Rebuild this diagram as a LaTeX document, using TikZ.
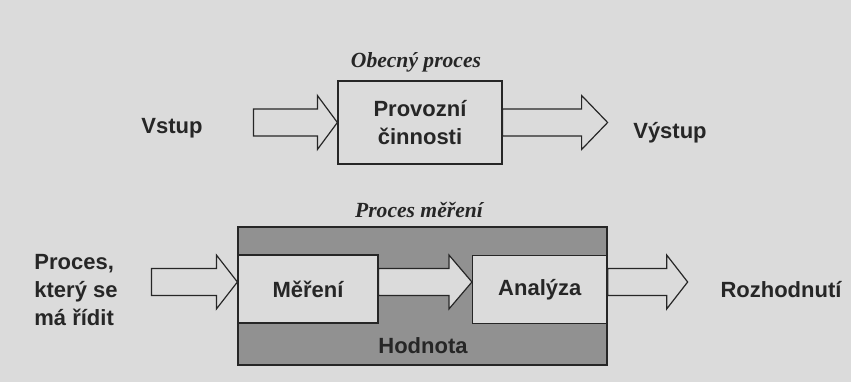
\documentclass[tikz,border=0pt]{standalone}
\usepackage{fontspec}
\setmainfont{Liberation Sans}
\newfontfamily\serifit{Liberation Serif}
\usepackage{tikz}
\usetikzlibrary{calc,backgrounds}

\definecolor{paper}{gray}{0.86}
\definecolor{band}{gray}{0.57}
\definecolor{ink}{gray}{0.15}

\tikzset{
  txt/.style={font=\bfseries\fontsize{16.5}{21}\selectfont, text=ink},
  heading/.style={font=\serifit\bfseries\itshape\fontsize{16.2}{18}\selectfont, text=ink},
  box/.style={draw=ink, line width=0.9pt, fill=paper, inner sep=0pt},
  arrowbody/.style={draw=ink, line width=0.9pt, fill=paper, line join=miter},
}

% fat arrow: start, tip, head length
\newcommand{\bigarrow}[3]{%
  \draw[arrowbody] ($(#1)+(0,-13.5)$) -- ($(#2)+(-#3,-13.5)$) -- ($(#2)+(-#3,-27)$)
    -- (#2) -- ($(#2)+(-#3,27)$) -- ($(#2)+(-#3,13.5)$) -- ($(#1)+(0,13.5)$) -- cycle;}

\begin{document}
\begin{tikzpicture}[x=0.75pt,y=-0.75pt]
\fill[paper] (0,0) rectangle (851,382);
\useasboundingbox (0,0) rectangle (851,382);

% Obecny proces
\node[heading] (title1) at (416,62) {Obecný proces};
\node[box, txt, align=center, minimum width=123pt, minimum height=62.25pt] (provoz) at (420,122.5) {Provozní\\činnosti};
\node[txt] (vstup) at (172,128) {Vstup};
\node[txt] (vystup) at (670,133) {Výstup};
\coordinate (in1) at ($(provoz.west)+(-84,0)$);
\coordinate (out1) at ($(provoz.east)+(105,0)$);
\bigarrow{in1}{provoz.west}{20}
\bigarrow{provoz.east}{out1}{26}

% Proces mereni
\node[heading] (title2) at (419,210) {Proces měření};
\node[box, fill=band, minimum width=276.75pt, minimum height=103.5pt] (outer) at (422.5,296) {};
\node[box, txt, minimum width=105pt, minimum height=51pt] (mer) at (308,289) {Měření};
\node[box, txt, minimum width=100.9pt, minimum height=51pt] (ana) at (539.8,289.5) {Analýza};
\node[txt] (hodnota) at (423,346) {Hodnota};
\node[txt, align=left] (proces) at (76,290) {Proces,\\který se\\má řídit};
\node[txt] (rozh) at (781,290) {Rozhodnutí};
\coordinate (in2) at ($(mer.west)+(-86,-7)$);
\coordinate (tip2) at ($(mer.west)+(0,-7)$);
\coordinate (from3) at ($(mer.east)+(0,-7)$);
\coordinate (tip3) at (tip2 -| ana.west);
\coordinate (from4) at (tip2 -| ana.east);
\coordinate (out2) at ($(from4)+(80,0)$);
\bigarrow{in2}{tip2}{21}
\bigarrow{from3}{tip3}{23}
\bigarrow{from4}{out2}{21}
\end{tikzpicture}
\end{document}
